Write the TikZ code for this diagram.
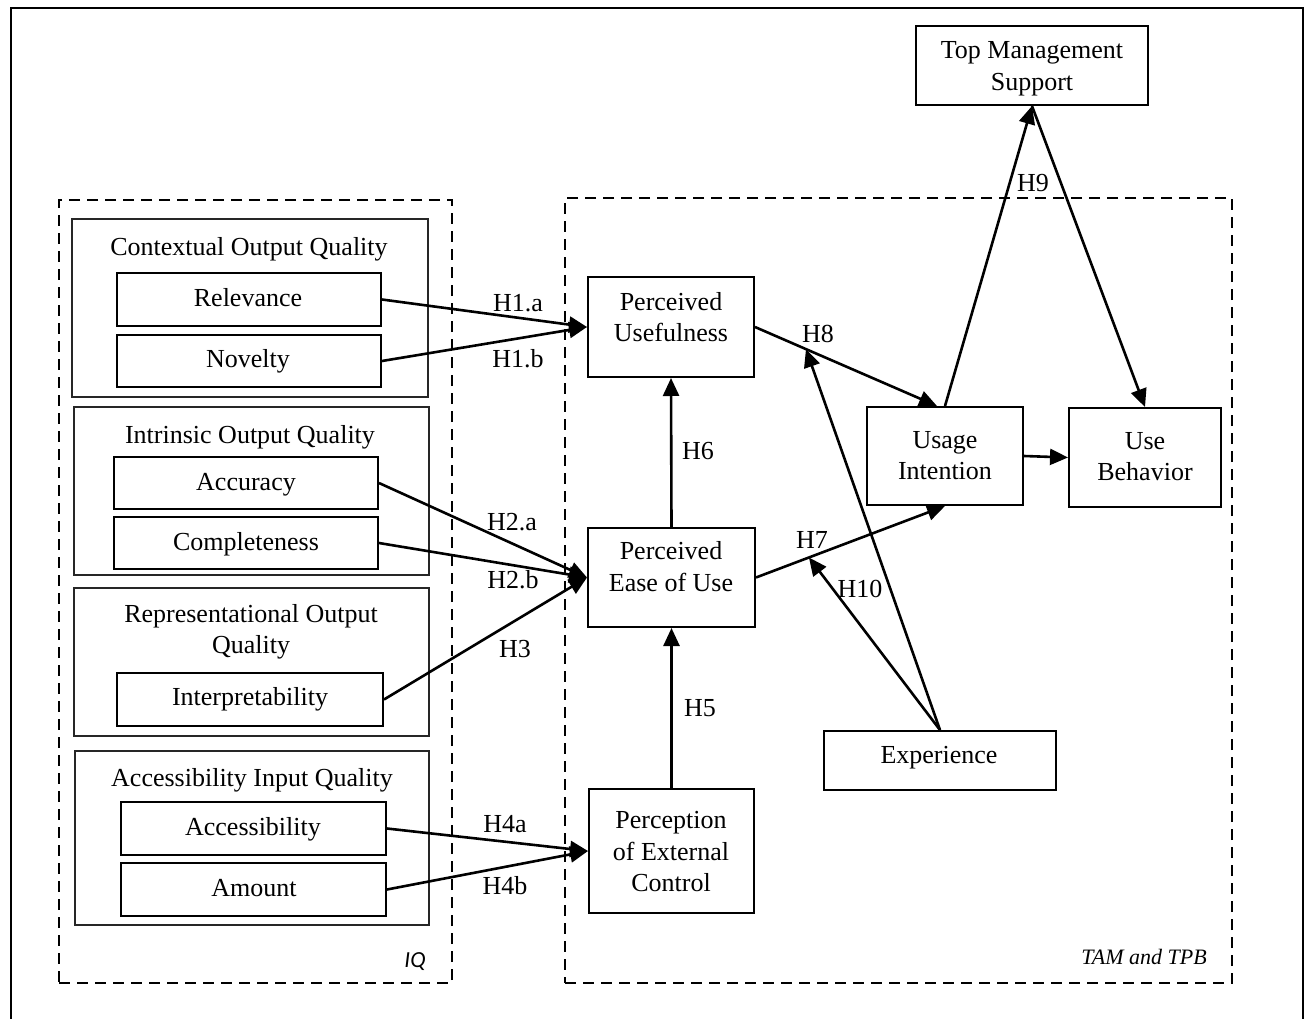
\documentclass[tikz,border=0pt]{standalone}
\usepackage{fontspec}
\setmainfont{Liberation Serif}
\newfontfamily\iqfont{Carlito}
\usetikzlibrary{arrows.meta,fit,calc}
\begin{document}
\begin{tikzpicture}[x=1pt,y=-1pt,
  mbox/.style={draw, line width=2pt, inner sep=0pt},
  gbox/.style={draw=black!85, line width=1.3pt, inner sep=0pt},
  dbox/.style={draw, line width=2.8pt, dash pattern=on 11pt off 7pt, inner sep=0pt},
  tx/.style={inner sep=0pt, align=center, font=\fontsize{26}{31.5}\selectfont},
  bt/.style={inner sep=0pt, anchor=base, font=\fontsize{26}{31.5}\selectfont},
  arr/.style={line width=2.6pt, -{Triangle[length=18pt,width=16pt]}}]
\useasboundingbox (0,0) rectangle (1309,1019);
\clip (0,0) rectangle (1309,1019);
\fill[white] (0,0) rectangle (1309,1019);
\draw[line width=2.4pt] (11,1040) -- (11,8) -- (1303,8) -- (1303,1040);

% dashed frames
\node[dbox, fit={(59,200) (452,983)}] (iq) {};
\node[dbox, fit={(565,198) (1232,983)}] (tam) {};
\node[font=\iqfont\itshape\fontsize{23}{27}\selectfont, inner sep=0pt, anchor=base] (iqlab) at (415,967) {IQ};
\node[font=\itshape\fontsize{22}{26}\selectfont, inner sep=0pt, anchor=base east] (tamlab) at (1207,964) {TAM and TPB};

% group boxes
\node[gbox, fit={(72,219) (428,397)}] (g1) {};
\node[gbox, fit={(74,407) (429,575)}] (g2) {};
\node[gbox, fit={(74,588) (429,736)}] (g3) {};
\node[gbox, fit={(75,751) (429,925)}] (g4) {};
\node[bt] (g1t) at (249,255) {Contextual Output Quality};
\node[bt] (g2t) at (250,443) {Intrinsic Output Quality};
\node[tx] (g3t) at (251,632) {Representational Output\\Quality};
\node[bt] (g4t) at (252,786) {Accessibility Input Quality};

% item boxes
\node[mbox, fit={(117,273) (381,326)}] (rel) {};
\node[mbox, fit={(117,335) (381,387)}] (nov) {};
\node[mbox, fit={(114,457) (378,509)}] (acc) {};
\node[mbox, fit={(114,517) (378,569)}] (com) {};
\node[mbox, fit={(117,673) (383,726)}] (int) {};
\node[mbox, fit={(121,802) (386,855)}] (axs) {};
\node[mbox, fit={(121,863) (386,916)}] (amt) {};
\node[bt] (relt) at (248,306) {Relevance};
\node[bt] (novt) at (248,367) {Novelty};
\node[bt] (acct) at (246,490) {Accuracy};
\node[bt] (comt) at (246,550) {Completeness};
\node[bt] (intt) at (250,705) {Interpretability};
\node[bt] (axst) at (253,835) {Accessibility};
\node[bt] (amtt) at (254,896) {Amount};

% model boxes
\node[mbox, fit={(588,277) (754,377)}] (pu) {};
\node[mbox, fit={(588,528) (755,627)}] (peou) {};
\node[mbox, fit={(589,789) (754,913)}] (pec) {};
\node[mbox, fit={(867,407) (1023,505)}] (ui) {};
\node[mbox, fit={(1069,408) (1221,507)}] (ub) {};
\node[mbox, fit={(824,731) (1056,790)}] (exp) {};
\node[mbox, fit={(916,26) (1148,105)}] (tms) {};
\node[tx] (put) at (671,317) {Perceived\\Usefulness};
\node[tx] (peout) at (671,566.7) {Perceived\\Ease of Use};
\node[tx] (pect) at (671,852) {Perception\\of External\\Control};
\node[tx] (uit) at (945,455.4) {Usage\\Intention};
\node[tx] (ubt) at (1145,456.4) {Use\\Behavior};
\node[bt] (expt) at (939,763) {Experience};
\node[tx] (tmst) at (1032,68.75) {Top Management\\Support};

% connectors
\coordinate (ui8) at ($(ui.north)+(-8,0)$);
\draw[arr] (rel.east) -- (pu.west);
\draw[arr] (nov.east) -- (pu.west);
\draw[arr] (acc.east) -- (peou.west);
\draw[arr] (com.east) -- (peou.west);
\draw[arr] (int.east) -- (peou.west);
\draw[arr] (axs.east) -- (pec.west);
\draw[arr] (amt.east) -- (pec.west);
\draw[arr] (pec.north) -- (peou.south);
\draw[arr] (peou.north) -- (pu.south);
\draw[arr] (pu.east) -- (ui8);
\draw[arr] (peou.east) -- (ui.south);
\draw[arr] (ui.north) -- (tms.south);
\draw[arr] (tms.south) -- (ub.north);
\draw[arr] (ui.east) -- (ub.west);
\coordinate (h10) at ($(peou.east)!0.28!(ui.south)$);
\coordinate (h8x) at ($(pu.east)!0.28!(ui8)$);
\draw[arr] (exp.north) -- (h10);
\draw[arr] (exp.north) -- (h8x);

% hypothesis labels
\node[bt] (l1a) at (518,311) {H1.a};
\node[bt] (l1b) at (518,367) {H1.b};
\node[bt] (l2a) at (512,530) {H2.a};
\node[bt] (l2b) at (513,588) {H2.b};
\node[bt] (l3) at (515,657) {H3};
\node[bt] (l4a) at (505,832) {H4a};
\node[bt] (l4b) at (505,894) {H4b};
\node[bt] (l5) at (700,716) {H5};
\node[bt] (l6) at (698,459) {H6};
\node[bt] (l7) at (812,548) {H7};
\node[bt] (l8) at (818,342) {H8};
\node[bt] (l9) at (1033,192) {H9};
\node[bt] (l10) at (860,597) {H10};
\end{tikzpicture}
\end{document}
